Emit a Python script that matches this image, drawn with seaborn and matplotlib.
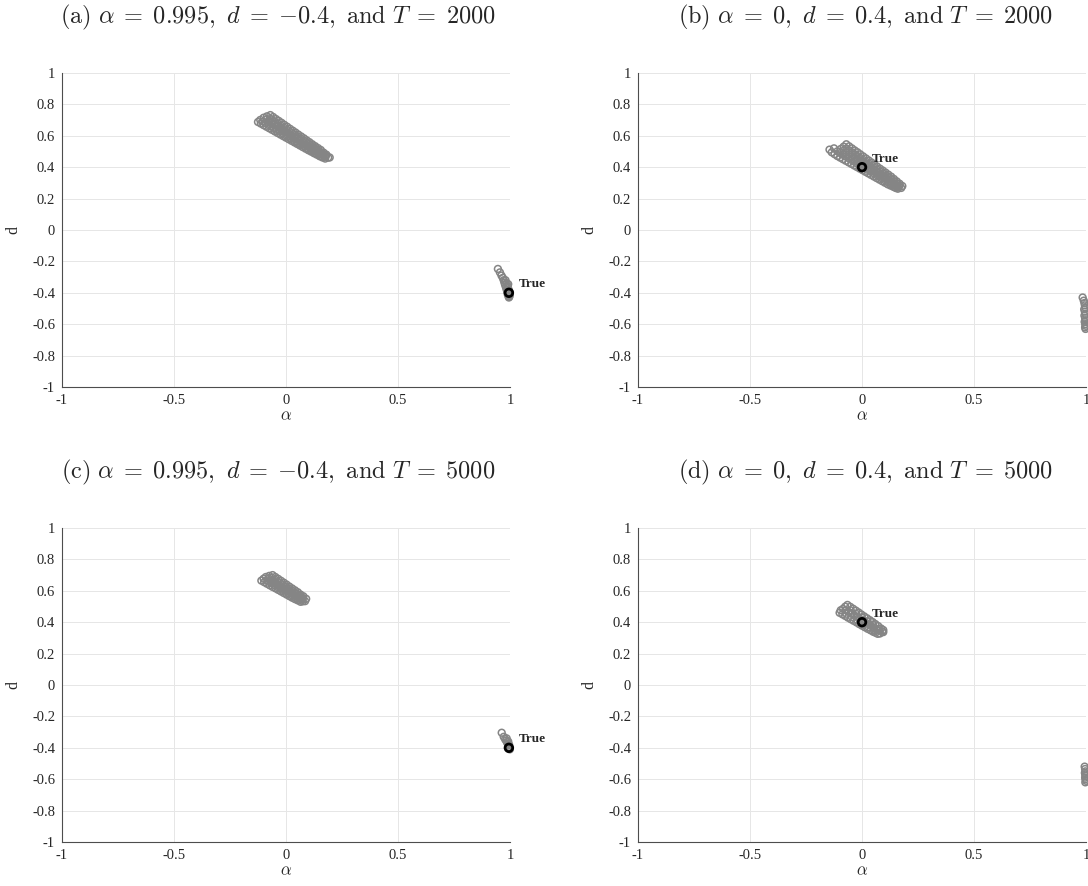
import numpy as np
import pandas as pd
import matplotlib
matplotlib.use("Agg")
import matplotlib.pyplot as plt
import seaborn as sns

# ---------------- data ----------------
x_ticks = [-1, -0.5, 0, 0.5, 1]
x_tick_labels = ["-1", "-0.5", "0", "0.5", "1"]
y_ticks = [-1, -0.8, -0.6, -0.4, -0.2, 0, 0.2, 0.4, 0.6, 0.8, 1]
y_tick_labels = ["-1", "-0.8", "-0.6", "-0.4", "-0.2", "0", "0.2", "0.4", "0.6", "0.8", "1"]

titles = [
    r"$\mathrm{(a)}\ \alpha\;=\;0.995,\ d\;=\;{-}0.4,\ \mathrm{and}\ T\;=\;2000$",
    r"$\mathrm{(b)}\ \alpha\;=\;0,\ d\;=\;0.4,\ \mathrm{and}\ T\;=\;2000$",
    r"$\mathrm{(c)}\ \alpha\;=\;0.995,\ d\;=\;{-}0.4,\ \mathrm{and}\ T\;=\;5000$",
    r"$\mathrm{(d)}\ \alpha\;=\;0,\ d\;=\;0.4,\ \mathrm{and}\ T\;=\;5000$",
]
true_alpha = [0.995, 0.0, 0.995, 0.0]
true_d = [-0.4, 0.4, -0.4, 0.4]

# panel (a): estimates, T = 2000
a_alpha = [-0.07, -0.045, -0.02, 0.005, 0.03, 0.055, 0.08, 0.105, 0.13, 0.155, 0.18, 0.195,
           -0.0575, -0.0325, -0.0075, 0.0175, 0.0425, 0.0675, 0.0925, 0.1175, 0.1425, 0.1675,
           -0.085, -0.06, -0.035, -0.01, 0.015, 0.04, 0.065, 0.09, 0.115, 0.14, 0.165, 0.188,
           -0.0725, -0.0475, -0.0225, 0.0025, 0.0275, 0.0525, 0.0775, 0.1025, 0.1275, 0.1525, 0.1775,
           -0.1, -0.075, -0.05, -0.025, 0.0, 0.025, 0.05, 0.075, 0.1, 0.125, 0.15, 0.175,
           -0.0875, -0.0625, -0.0375, -0.0125, 0.0125, 0.0375, 0.0625, 0.0875, 0.1125, 0.1375, 0.1625,
           -0.115, -0.09, -0.065, -0.04, -0.015, 0.01, 0.035, 0.06, 0.085, 0.11, 0.135, 0.16,
           -0.1025, -0.0775, -0.0525, -0.0275, -0.0025, 0.0225, 0.0475, 0.0725, 0.0975, 0.1225, 0.1475,
           -0.125, -0.1, -0.075, -0.05, -0.025, 0.0, 0.025, 0.05, 0.075, 0.1, 0.125, 0.15, 0.175,
           -0.1125, -0.0875, -0.0625, -0.0375, -0.0125, 0.0125, 0.0375, 0.0625, 0.0875, 0.1125, 0.1375, 0.1625,
           0.946, 0.955, 0.962, 0.968, 0.972, 0.975, 0.978, 0.982, 0.985, 0.988, 0.99, 0.993,
           0.995, 0.997, 0.999, 0.98, 0.985, 0.99, 0.994, 0.998, 0.992, 0.996]
a_d = [0.732, 0.707, 0.683, 0.658, 0.633, 0.608, 0.584, 0.559, 0.534, 0.510, 0.480, 0.462,
       0.720, 0.695, 0.670, 0.645, 0.621, 0.596, 0.571, 0.546, 0.522, 0.493,
       0.724, 0.700, 0.677, 0.653, 0.629, 0.605, 0.582, 0.558, 0.534, 0.510, 0.485, 0.461,
       0.712, 0.688, 0.665, 0.641, 0.617, 0.593, 0.570, 0.546, 0.522, 0.498, 0.473,
       0.715, 0.692, 0.670, 0.647, 0.625, 0.602, 0.580, 0.557, 0.535, 0.512, 0.490, 0.467,
       0.704, 0.681, 0.659, 0.636, 0.614, 0.591, 0.569, 0.546, 0.524, 0.501, 0.479,
       0.701, 0.680, 0.659, 0.637, 0.616, 0.595, 0.574, 0.552, 0.531, 0.510, 0.489, 0.470,
       0.690, 0.669, 0.648, 0.627, 0.605, 0.584, 0.563, 0.542, 0.520, 0.500, 0.480,
       0.688, 0.668, 0.648, 0.628, 0.608, 0.588, 0.568, 0.548, 0.528, 0.508, 0.489, 0.470, 0.455,
       0.678, 0.658, 0.638, 0.618, 0.598, 0.578, 0.558, 0.538, 0.518, 0.499, 0.480, 0.462,
       -0.248, -0.27, -0.29, -0.305, -0.32, -0.335, -0.35, -0.365, -0.38, -0.395, -0.41, -0.42,
       -0.43, -0.425, -0.415, -0.32, -0.34, -0.36, -0.38, -0.40, -0.345, -0.39]

# panel (b): estimates, T = 2000
b_alpha = [-0.07, -0.045, -0.02, 0.005, 0.03, 0.055, 0.08, 0.105, 0.13, 0.155, 0.18,
           -0.0575, -0.0325, -0.0075, 0.0175, 0.0425, 0.0675, 0.0925, 0.1175, 0.1425, 0.1675,
           -0.082, -0.057, -0.032, -0.007, 0.018, 0.043, 0.068, 0.093, 0.118, 0.143, 0.168,
           -0.0695, -0.0445, -0.0195, 0.0055, 0.0305, 0.0555, 0.0805, 0.1055, 0.1305, 0.1555,
           -0.095, -0.07, -0.045, -0.02, 0.005, 0.03, 0.055, 0.08, 0.105, 0.13, 0.155, 0.175,
           -0.0825, -0.0575, -0.0325, -0.0075, 0.0175, 0.0425, 0.0675, 0.0925, 0.1175, 0.1425, 0.165,
           -0.11, -0.085, -0.06, -0.035, -0.01, 0.015, 0.04, 0.065, 0.09, 0.115, 0.14, 0.16,
           -0.0975, -0.0725, -0.0475, -0.0225, 0.0025, 0.0275, 0.0525, 0.0775, 0.1025, 0.1275, 0.15,
           -0.135, -0.11, -0.085, -0.06, -0.035, -0.01, 0.015, 0.04, 0.065, 0.09, 0.115, 0.14, 0.16,
           -0.1225, -0.0975, -0.0725, -0.0475, -0.0225, 0.0025, 0.0275, 0.0525, 0.0775, 0.1025, 0.1275, 0.15,
           -0.145, -0.125,
           0.985, 0.99, 0.993, 0.995, 0.997, 0.992, 0.995, 0.998, 0.993, 0.996, 0.998, 0.994,
           0.997, 0.999, 0.996, 0.998]
b_d = [0.546, 0.520, 0.495, 0.469, 0.443, 0.417, 0.391, 0.366, 0.340, 0.310, 0.280,
       0.533, 0.507, 0.482, 0.456, 0.430, 0.404, 0.379, 0.353, 0.325, 0.295,
       0.531, 0.507, 0.483, 0.458, 0.434, 0.410, 0.385, 0.361, 0.337, 0.311, 0.284,
       0.519, 0.495, 0.471, 0.446, 0.422, 0.397, 0.373, 0.349, 0.324, 0.298,
       0.516, 0.493, 0.470, 0.447, 0.424, 0.401, 0.378, 0.355, 0.332, 0.309, 0.286, 0.268,
       0.505, 0.482, 0.459, 0.436, 0.413, 0.390, 0.367, 0.344, 0.321, 0.298, 0.277,
       0.501, 0.479, 0.458, 0.436, 0.415, 0.393, 0.372, 0.350, 0.329, 0.307, 0.287, 0.271,
       0.490, 0.468, 0.447, 0.425, 0.404, 0.382, 0.361, 0.339, 0.318, 0.297, 0.279,
       0.495, 0.471, 0.451, 0.431, 0.411, 0.391, 0.371, 0.351, 0.331, 0.311, 0.291, 0.275, 0.263,
       0.483, 0.461, 0.441, 0.421, 0.401, 0.381, 0.361, 0.341, 0.321, 0.301, 0.283, 0.268,
       0.512, 0.520,
       -0.43, -0.45, -0.465, -0.48, -0.495, -0.505, -0.52, -0.535, -0.545, -0.56, -0.575, -0.585,
       -0.60, -0.61, -0.62, -0.63]

# panel (c): estimates, T = 5000
c_alpha = [-0.06, -0.035, -0.01, 0.015, 0.04, 0.065, 0.09,
           -0.0475, -0.0225, 0.0025, 0.0275, 0.0525, 0.0775,
           -0.075, -0.05, -0.025, 0.0, 0.025, 0.05, 0.075,
           -0.0625, -0.0375, -0.0125, 0.0125, 0.0375, 0.0625,
           -0.09, -0.065, -0.04, -0.015, 0.01, 0.035, 0.06, 0.085,
           -0.0775, -0.0525, -0.0275, -0.0025, 0.0225, 0.0475, 0.0725,
           -0.1, -0.075, -0.05, -0.025, 0.0, 0.025, 0.05, 0.075,
           -0.0875, -0.0625, -0.0375, -0.0125, 0.0125, 0.0375, 0.0625,
           -0.11, -0.085, -0.06, -0.035, -0.01, 0.015, 0.04, 0.065,
           -0.0975, -0.0725, -0.0475, -0.0225, 0.0025, 0.0275, 0.0525,
           0.963, 0.972, 0.978, 0.983, 0.987, 0.99, 0.993, 0.995, 0.997, 0.999, 0.985, 0.992, 0.996]
c_d = [0.700, 0.676, 0.652, 0.627, 0.603, 0.576, 0.549,
       0.688, 0.664, 0.640, 0.615, 0.591, 0.565,
       0.695, 0.672, 0.649, 0.625, 0.602, 0.579, 0.554,
       0.683, 0.660, 0.636, 0.613, 0.590, 0.566,
       0.688, 0.666, 0.644, 0.622, 0.600, 0.578, 0.556, 0.534,
       0.677, 0.655, 0.633, 0.611, 0.589, 0.567, 0.545,
       0.677, 0.656, 0.635, 0.614, 0.593, 0.573, 0.552, 0.533,
       0.667, 0.646, 0.625, 0.604, 0.583, 0.562, 0.542,
       0.665, 0.645, 0.625, 0.606, 0.586, 0.566, 0.547, 0.530,
       0.655, 0.635, 0.616, 0.596, 0.576, 0.556, 0.539,
       -0.304, -0.33, -0.345, -0.355, -0.365, -0.375, -0.385, -0.395, -0.405, -0.41, -0.34, -0.36, -0.38]

# panel (d): estimates, T = 5000
d_alpha = [-0.065, -0.04, -0.015, 0.01, 0.035, 0.06, 0.085,
           -0.0525, -0.0275, -0.0025, 0.0225, 0.0475, 0.0725, 0.095,
           -0.075, -0.05, -0.025, 0.0, 0.025, 0.05, 0.075, 0.095,
           -0.085, -0.06, -0.035, -0.01, 0.015, 0.04, 0.065, 0.09,
           -0.0725, -0.0475, -0.0225, 0.0025, 0.0275, 0.0525, 0.0775,
           -0.095, -0.07, -0.045, -0.02, 0.005, 0.03, 0.055, 0.08,
           -0.1, -0.075, -0.05, -0.025, 0.0, 0.025, 0.05, 0.07,
           -0.0875, -0.0625, -0.0375, -0.0125, 0.0125, 0.0375, 0.06,
           0.994, 0.996, 0.998, 0.995, 0.997, 0.999, 0.996, 0.998, 1.0, 0.997]
d_d = [0.510, 0.486, 0.462, 0.437, 0.413, 0.388, 0.360,
       0.498, 0.474, 0.449, 0.425, 0.401, 0.375, 0.350,
       0.499, 0.475, 0.452, 0.429, 0.405, 0.382, 0.357, 0.337,
       0.485, 0.466, 0.444, 0.421, 0.399, 0.377, 0.354, 0.340,
       0.476, 0.455, 0.433, 0.410, 0.388, 0.366, 0.347,
       0.476, 0.454, 0.433, 0.411, 0.390, 0.368, 0.347, 0.328,
       0.460, 0.440, 0.419, 0.399, 0.378, 0.358, 0.339, 0.326,
       0.450, 0.429, 0.409, 0.388, 0.368, 0.349, 0.333,
       -0.52, -0.535, -0.55, -0.56, -0.57, -0.58, -0.59, -0.60, -0.61, -0.62]

panels = [(a_alpha, a_d), (b_alpha, b_d), (c_alpha, c_d), (d_alpha, d_d)]

# ---------------- style ----------------
sns.set_style("white")
plt.rcParams["font.family"] = ["Liberation Serif", "DejaVu Serif"]
plt.rcParams["mathtext.fontset"] = "cm"

W, H = 1088, 886
fig = plt.figure(figsize=(W / 100, H / 100), dpi=100)

ax_boxes = [(62, 73), (638, 73), (62, 528), (638, 528)]  # (left px, top px)
AW, AH = 448, 314
gray = "#858585"

for i, ((x0, y0), (xs, ys)) in enumerate(zip(ax_boxes, panels)):
    ax = fig.add_axes([x0 / W, 1 - (y0 + AH) / H, AW / W, AH / H])
    df = pd.DataFrame({"alpha": xs, "d": ys})
    sns.scatterplot(data=df, x="alpha", y="d", ax=ax, s=24, marker="o",
                    color=gray, facecolors="none", edgecolor=gray,
                    linewidth=1.1, legend=False, clip_on=False, zorder=3)
    tdf = pd.DataFrame({"alpha": [true_alpha[i]], "d": [true_d[i]]})
    sns.scatterplot(data=tdf, x="alpha", y="d", ax=ax, s=30, marker="o",
                    color="black", facecolors="none", edgecolor="black",
                    linewidth=2.0, legend=False, clip_on=False, zorder=4)
    ax.text(true_alpha[i] + 0.045, true_d[i] + 0.055, "True", fontsize=9.5,
            fontweight="bold", ha="left", va="center", zorder=5)

    ax.set_xlim(-1, 1)
    ax.set_ylim(-1, 1)
    ax.set_xticks(x_ticks)
    ax.set_xticklabels(x_tick_labels)
    ax.set_yticks(y_ticks)
    ax.set_yticklabels(y_tick_labels)
    ax.grid(True, color="#e6e6e6", linewidth=0.7)
    ax.set_axisbelow(True)
    for s in ["top", "right"]:
        ax.spines[s].set_visible(False)
    for s in ["left", "bottom"]:
        ax.spines[s].set_color("#4d4d4d")
        ax.spines[s].set_linewidth(0.8)
    ax.tick_params(direction="in", length=4, width=0.6, color="#4d4d4d",
                   labelsize=10.5, labelcolor="#262626", pad=5)
    ax.set_xlabel(r"$\alpha$", fontsize=12, color="#262626")
    ax.set_ylabel("d", fontsize=11.5, color="#262626")
    ax.xaxis.set_label_coords(0.5, -(408 - 387) / AH)
    ax.yaxis.set_label_coords(-(x0 - (21 if x0 < 100 else 597)) / AW, 0.5)
    ax.patch.set_alpha(0)

    cx = x0 + AW / 2 + (-8 if x0 < 100 else 4)
    fig.text(cx / W, 1 - (y0 - 56) / H, titles[i], fontsize=17.5,
             ha="center", va="center")

fig.savefig("out.png", dpi=100)
